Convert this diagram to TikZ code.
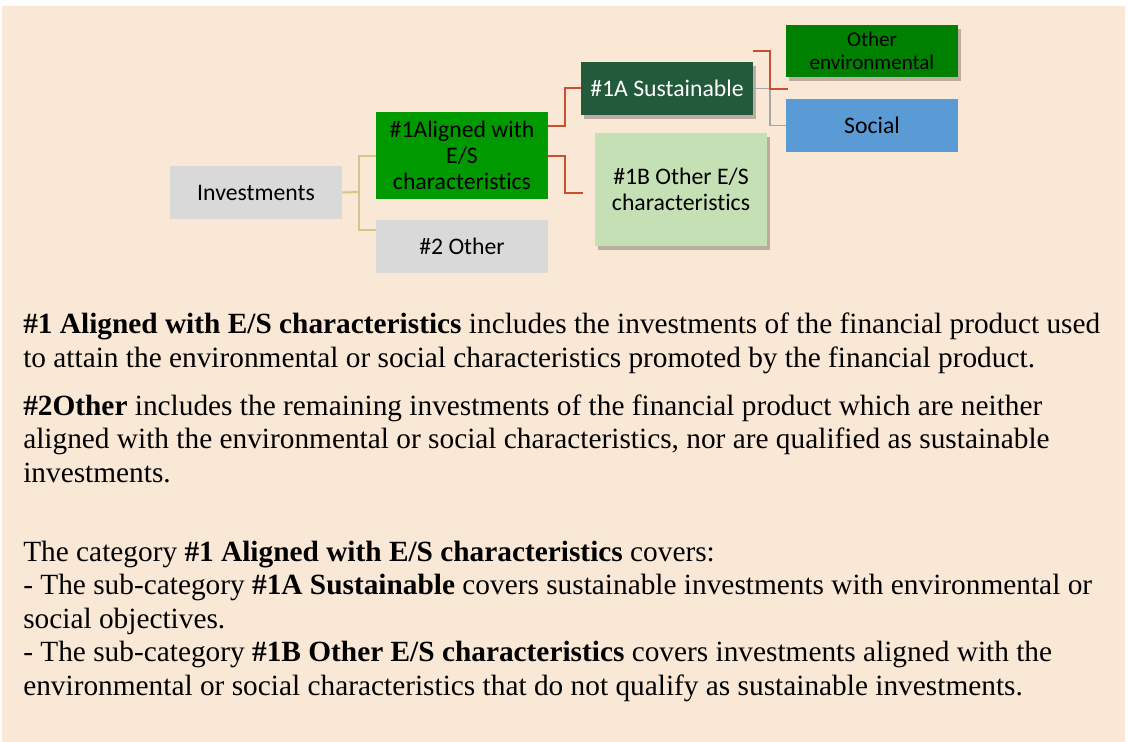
\documentclass[tikz,border=0pt]{standalone}
\usepackage{fontspec}
\setmainfont{Liberation Serif}
\newfontfamily\boxfont[Ligatures=NoCommon]{Carlito}
\usepackage{xcolor}
\usepackage{tikz}
\usetikzlibrary{calc,shadows}
\definecolor{paper}{HTML}{FAE8D7}
\definecolor{greybox}{HTML}{D9D9D9}
\definecolor{aligned}{HTML}{009900}
\definecolor{sustain}{HTML}{235A3B}
\definecolor{otheres}{HTML}{C5E0B4}
\definecolor{envgreen}{HTML}{008000}
\definecolor{social}{HTML}{5B9BD5}
\definecolor{redline}{HTML}{C9502E}
\definecolor{tanline}{HTML}{D2C68C}
\definecolor{greyline}{HTML}{A6A6A6}
\tikzset{
  catbox/.style={minimum width=129pt, minimum height=39.75pt, inner sep=0pt,
    align=center, font=\boxfont\fontsize{17.8}{19.5}\selectfont},
  softshadow/.style={drop shadow={shadow xshift=2pt, shadow yshift=-3pt,
    opacity=0.25, fill=black}},
  para/.style={anchor=base west, inner sep=0pt, align=left,
    font=\fontsize{22}{25.1}\selectfont}
}

\begin{document}
\begin{tikzpicture}[x=0.75pt, y=-0.75pt]
  \fill[white] (0,0) rectangle (1128,742);
  \fill[paper] (2,6) rectangle (1125,742);

  \node[catbox, fill=greybox] (inv) at (256,192.5) {Investments};
  \node[catbox, fill=aligned, minimum height=65.25pt] (al) at (462,155.5)
    {\#1Aligned with\\E/S\\characteristics};
  \node[catbox, fill=greybox] (oth) at (462,246.5) {\#2 Other};
  \node[catbox, fill=sustain, text=white, softshadow] (sus) at (667,88.5)
    {\#1A Sustainable};
  \node[catbox, fill=otheres, minimum height=84.75pt, softshadow] (ob) at (681,189.5)
    {\#1B Other E/S\\characteristics};
  \node[catbox, fill=envgreen, minimum height=39pt, softshadow,
    font=\boxfont\fontsize{15.8}{17.5}\selectfont] (env) at (872,51)
    {Other\\environmental};
  \node[catbox, fill=social] (soc) at (872,125.5) {Social};

  \coordinate (J) at (359,192);
  \coordinate (O) at (376,230);
  \coordinate (A) at (548,126);
  \coordinate (B) at (583,193);
  \coordinate (R) at (753,51);
  \coordinate (E) at (788,89);

  \draw[tanline, line width=1.5pt] (inv.east) -- (J);
  \draw[tanline, line width=1.5pt] (al.west) -| (J) |- (O);
  \draw[redline, line width=1.5pt] (A) -- (565,126) |- (sus.west);
  \draw[redline, line width=1.5pt] (al.east) -- (565,155.5) |- (B);
  \draw[greyline, line width=1.2pt] (sus.east) -- (770,88.5) |- (soc.west);
  \draw[redline, line width=1.5pt] (R) -- (770,51) |- (E);

  \node[para] (p1) at (23,367)
    {\textbf{\#1 Aligned with E/S characteristics} includes the investments of the financial product used\\
     to attain the environmental or social characteristics promoted by the financial product.};
  \node[para] (p2) at (23,482)
    {\textbf{\#2Other} includes the remaining investments of the financial product which are neither\\
     aligned with the environmental or social characteristics, nor are qualified as sustainable\\
     investments.};
  \node[para] (p3) at (23,695)
    {The category \textbf{\#1 Aligned with E/S characteristics} covers:\\
     - The sub-category \textbf{\#1A Sustainable} covers sustainable investments with environmental or\\
     social objectives.\\
     - The sub-category \textbf{\#1B Other E/S characteristics} covers investments aligned with the\\
     environmental or social characteristics that do not qualify as sustainable investments.};
\end{tikzpicture}
\end{document}
